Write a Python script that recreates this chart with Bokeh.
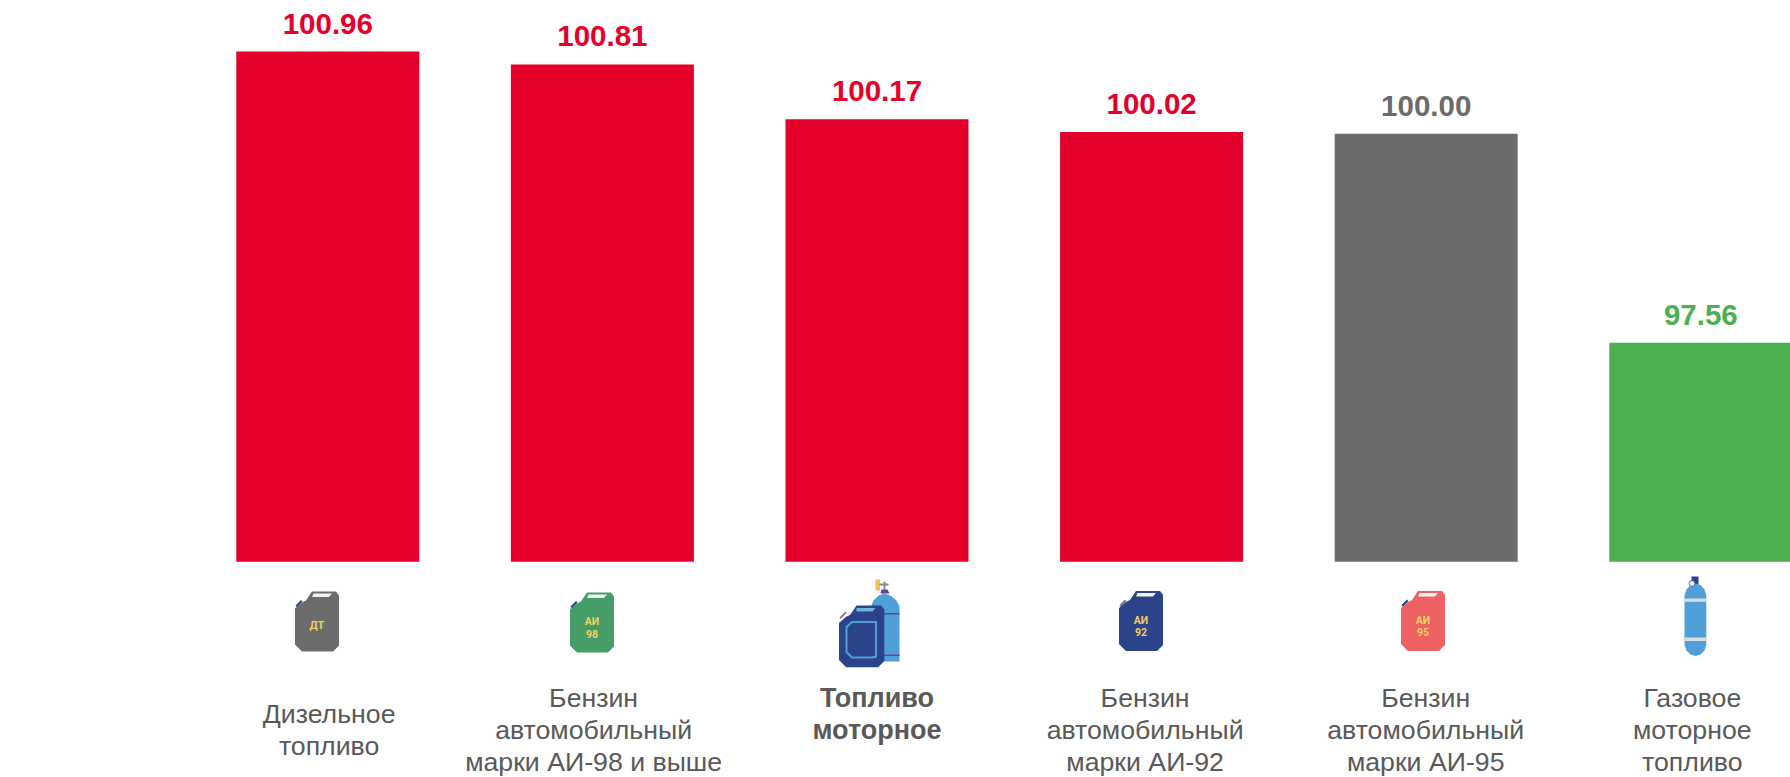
from bokeh.plotting import figure
from bokeh.models import Range1d
from bokeh.embed import file_html
from bokeh.resources import INLINE
from bokeh.core.properties import value

# ---- data ----
categories = ["Дизельное\nтопливо", "Бензин\nавтомобильный\nмарки АИ-98 и выше", "Топливо\nмоторное",
              "Бензин\nавтомобильный\nмарки АИ-92", "Бензин\nавтомобильный\nмарки АИ-95", "Газовое\nмоторное\nтопливо"]
values = [100.96, 100.81, 100.17, 100.02, 100.00, 97.56]
value_labels = ["100.96", "100.81", "100.17", "100.02", "100.00", "97.56"]
bar_colors = ["#E4002B", "#E4002B", "#E4002B", "#E4002B", "#6B6B6B", "#4CAF50"]
first_line_y = [713.5, 697.5, 697, 697.5, 697.5, 697.5]
label_shift = [1.3, -8.8, 0, -6.5, -0.5, -8.5]
bold = [False, False, True, False, False, False]

W, H = 1790, 777
BASE = 95.0
X0, STEP, BW = 327.3, 274.6, 183.0
Y_BASE, SCALE = 561.3, 85.6
TXT = "#595959"
FONT = "Liberation Sans"

p = figure(width=W, height=H, output_backend="svg", toolbar_location=None,
           x_range=Range1d(-X0 / STEP, (W - X0) / STEP),
           y_range=Range1d(BASE - (H - Y_BASE) / SCALE, BASE + Y_BASE / SCALE),
           min_border=0, outline_line_color=None)
p.axis.visible = False
p.grid.visible = False
p.extra_x_ranges["px"] = Range1d(1, W + 1)
p.extra_y_ranges["px"] = Range1d(H, 0)

idx = list(range(len(values)))
p.vbar(x=idx, top=values, bottom=BASE, width=BW / STEP, color=bar_colors, line_color=None)
p.text(x=idx, y=values, text=value_labels, text_color=bar_colors, text_align="center", text_baseline="middle",
       text_font=value(FONT), text_font_size="29.5px", text_font_style="bold", y_offset=-28)

for i, (label, y0, b, dx) in enumerate(zip(categories, first_line_y, bold, label_shift)):
    lines = label.split("\n")
    p.text(x=[X0 + STEP * i + dx + 1] * len(lines), y=[y0 + 32.2 * k for k in range(len(lines))], text=lines,
           x_range_name="px", y_range_name="px", text_color=TXT, text_align="center", text_baseline="middle",
           text_font=value(FONT), text_font_size="27px" if b else "26.7px", text_font_style="bold" if b else "normal")


def poly(pts, color, ox=0.0, oy=0.0, k=1.0, line=None, lw=1.0):
    xs = [ox + a * k for a, _ in pts]
    ys = [oy + c * k for _, c in pts]
    p.patch(xs, ys, x_range_name="px", y_range_name="px", fill_color=color, line_color=line, line_width=lw)


def label(x, y, t, size=10.5):
    p.text(x=[x], y=[y], text=[t], x_range_name="px", y_range_name="px", text_color="#F2CF63", text_align="center",
           text_baseline="middle", text_font=value("Roboto"), text_font_size=f"{size}px", text_font_style="bold")


CAN = [(17, 0), (41, 0), (44, 4), (44, 54), (38, 60), (7, 60), (0, 53), (0, 17), (7, 11), (11, 9)]
HANDLE = [(18.5, 2), (37, 2), (34, 5.5), (17, 5.5)]
CAP = [(0.5, 14), (6, 8.5), (7.5, 10), (2, 16)]


def can(ox, oy, color, cap, t1, t2=None):
    poly(CAP, cap, ox, oy)
    poly(CAN, color, ox, oy)
    poly(HANDLE, "#F4F4F4", ox, oy)
    if t2:
        label(ox + 22, oy + 29, t1)
        label(ox + 22, oy + 41, t2)
    else:
        label(ox + 22, oy + 34, t1, 11)


can(295.5, 591, "#6C6C6C", "#2A4389", "ДТ")
can(570.5, 592, "#479D67", "#2A4389", "АИ", "98")
can(1119.5, 590.5, "#2A4389", "#7A7A7A", "АИ", "92")
can(1401.5, 590.5, "#EF6264", "#2A4389", "АИ", "95")

# combined icon: cylinder behind a larger can
BLUE, NAVY, PURPLE = "#4F9FD9", "#2A4389", "#6A3D9A"
poly([(876, 579), (880.5, 579), (880.5, 590), (876, 590)], "#F2C14E")
poly([(880, 583), (889, 583), (889, 585), (880, 585)], "#8A8A8A")
poly([(884, 581), (886, 581), (886, 589), (884, 589)], "#8A8A8A")
poly([(881, 593), (882, 589), (888, 589), (890, 593)], PURPLE)
poly([(871.5, 661), (871.5, 606), (874, 600), (879, 595), (885, 593), (891, 595), (897, 600), (900, 606), (900, 661)], BLUE)
poly([(871.5, 612.5), (900, 612.5), (900, 614), (871.5, 614)], PURPLE)
poly([(871.5, 654), (900, 654), (900, 655.5), (871.5, 655.5)], PURPLE)
poly([(840, 617), (846, 611), (847, 612.5), (841, 618.5)], "#7A7A7A")
poly(CAN, NAVY, 839.5, 605, 1.03)
poly([(857, 607.5), (876, 607.5), (873, 611), (857, 611)], "#6FB2E3")
poly([(846, 626), (852, 620.5), (877.5, 620.5), (877.5, 657), (873, 658), (852, 658), (846, 652)], BLUE)
poly([(848, 627), (853, 622.5), (875.5, 622.5), (875.5, 655), (872, 656), (853, 656), (848, 651)], NAVY)

# gas cylinder
poly([(1692, 576), (1699, 576), (1699, 584), (1692, 584)], NAVY)
poly([(1685, 595), (1687, 589), (1691, 584.5), (1696, 583), (1701, 584.5), (1705, 589), (1706.8, 595), (1706.8, 644),
      (1705, 650), (1701, 654), (1696, 655.5), (1691, 654), (1687, 650), (1685, 644)], BLUE)
p.scatter(x=[1692.5], y=[583], size=6, x_range_name="px", y_range_name="px", fill_color="#DCEBF7", line_color=NAVY, line_width=0.7)
poly([(1684, 598), (1707.8, 598), (1707.8, 601.3), (1684, 601.3)], "#DCDCDC")
poly([(1684, 637), (1707.8, 637), (1707.8, 640.5), (1684, 640.5)], "#DCDCDC")

open("out.html", "w").write(file_html(p, INLINE))
